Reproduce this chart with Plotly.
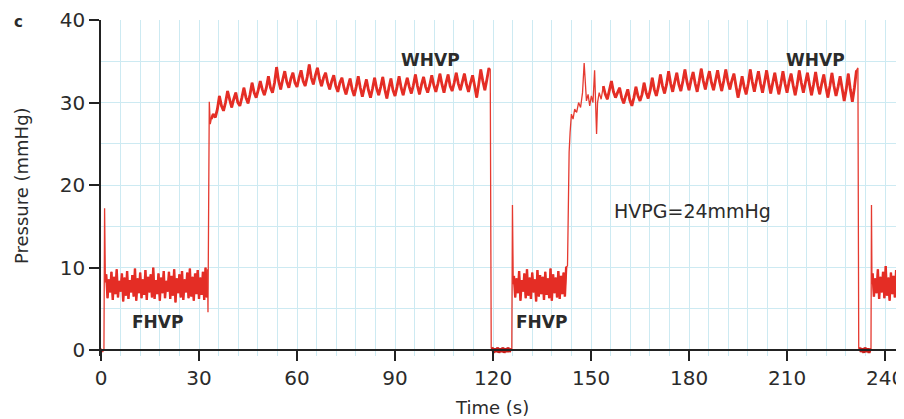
import numpy as np
import plotly.graph_objects as go

# ---------------- data ----------------
# opening of the record: baseline, flush spike, settling
start_t = [0.0, 0.5, 0.9, 1.1, 1.35]
start_p = [0.2, -0.2, 0.1, 17.2, 8.2]

# first free hepatic venous pressure (FHVP) segment, sampled every 0.4 s
fhvp1_t0, fhvp1_dt = 1.6, 0.4
fhvp1_p = [9.2, 6.3, 8.6, 7.0, 9.5, 6.1, 8.9, 6.8, 9.8, 6.4, 8.4, 7.1, 9.3, 5.9, 8.8, 6.6, 9.6, 6.2, 8.5, 7.0,
           9.1, 6.5, 9.9, 6.0, 8.7, 6.9, 9.4, 6.3, 8.6, 6.7, 9.7, 6.1, 8.9, 7.0, 9.2, 6.4, 10.0, 6.2, 8.5, 6.8,
           9.3, 6.0, 8.8, 6.9, 9.6, 6.3, 8.4, 7.1, 9.5, 6.2, 9.0, 6.6, 9.8, 5.8, 8.7, 6.9, 9.2, 6.4, 9.6, 6.1,
           8.6, 7.0, 9.4, 6.3, 9.9, 6.5, 8.9, 6.0, 9.3, 6.8, 9.7, 6.2, 8.8, 6.7, 9.5, 6.1, 10.0, 6.4]

# balloon inflation
rise1_t = [32.6, 32.75, 32.95, 33.15, 33.45]
rise1_p = [9.8, 4.6, 14.0, 30.1, 27.4]

# first wedged hepatic venous pressure (WHVP) segment, every 0.625 s
whvp1_t0, whvp1_dt = 33.75, 0.625
whvp1_p = [28.0, 28.6, 28.2, 29.2, 30.8, 29.6, 29.0, 30.0, 31.4, 30.2, 29.4, 30.4,
           31.2, 30.0, 29.6, 30.6, 31.8, 30.6, 29.9, 31.0, 32.4, 31.2, 30.6, 31.5,
           32.6, 31.6, 30.9, 31.8, 33.2, 31.8, 31.2, 32.4, 34.3, 32.6, 31.6, 32.8,
           33.8, 32.5, 31.8, 32.9, 33.6, 32.4, 31.9, 33.0, 33.9, 32.6, 32.0, 33.1,
           34.6, 33.0, 32.2, 33.3, 34.2, 32.9, 32.0, 33.0, 33.6, 32.4, 31.6, 32.6,
           33.3, 32.0, 31.3, 32.4, 33.0, 31.8, 31.0, 32.0, 32.9, 31.6, 30.8, 31.9,
           33.2, 31.8, 30.7, 31.8, 32.8, 31.5, 30.6, 31.7, 33.0, 31.7, 30.9, 31.9,
           33.1, 31.6, 30.5, 31.8, 32.9, 31.5, 30.8, 31.9, 33.2, 31.8, 30.9, 32.0,
           33.0, 31.9, 31.1, 32.1, 33.4, 32.0, 31.0, 32.2, 33.1, 31.9, 31.2, 32.1,
           33.3, 32.1, 31.3, 32.3, 33.5, 32.2, 31.2, 32.4, 33.4, 32.0, 31.4, 32.4,
           33.6, 32.3, 31.5, 32.5, 33.5, 32.2, 31.3, 32.4, 33.3, 32.0, 30.6, 32.2,
           34.0, 32.6, 31.5, 32.8, 34.2]

# deflation / zero reference, then flush spike
drop1_t = [119.15, 119.45]
drop1_p = [34.0, 0.2]
zero1_t0, zero1_dt = 119.8, 0.4
zero1_p = [0.3, -0.3, 0.2, -0.2, 0.3, -0.3, 0.2, -0.2, 0.3, -0.3, 0.2, -0.2, 0.3, -0.2, 0.2]
spike2_t = [125.75, 125.95, 126.2]
spike2_p = [0.2, 17.6, 8.0]

# second FHVP segment
fhvp2_t0, fhvp2_dt = 126.4, 0.4
fhvp2_p = [9.0, 6.4, 8.7, 6.9, 9.6, 6.0, 8.5, 7.1, 9.3, 6.3, 9.8, 6.6, 8.8, 6.2, 9.4, 7.0, 8.6, 5.9, 9.7, 6.5,
           9.1, 6.8, 8.9, 6.1, 9.5, 6.7, 8.7, 6.3, 9.9, 6.0, 9.2, 6.9, 8.8, 6.4, 9.6, 6.2, 9.0, 6.8, 9.4, 6.5,
           10.1]

# second inflation, with the early artefacts
rise2_t = [142.8, 143.0, 143.3, 143.6, 144.0, 144.5, 145.0, 145.6, 146.2, 146.8, 147.4, 147.9,
           148.2, 148.6, 149.1, 149.6, 150.1, 150.6, 151.1, 151.4, 151.7, 152.0, 152.5, 153.1]
rise2_p = [10.2, 18.5, 24.0, 26.4, 28.6, 28.0, 29.2, 28.8, 30.0, 29.4, 31.2, 34.8,
           32.0, 30.2, 31.0, 29.6, 30.8, 30.0, 33.9, 29.0, 26.2, 30.0, 31.2, 30.4]

# second WHVP segment
whvp2_t0, whvp2_dt = 153.75, 0.625
whvp2_p = [32.0, 31.0, 30.4, 31.4, 32.6, 31.3, 30.6, 31.2, 31.8, 30.6, 29.9, 30.8,
           31.6, 30.3, 29.6, 30.6, 31.9, 30.8, 30.2, 31.0, 32.4, 31.2, 30.5, 31.5,
           33.0, 31.6, 30.8, 31.9, 33.4, 32.0, 31.1, 32.2, 33.8, 32.3, 31.3, 32.5,
           33.6, 32.2, 31.4, 32.6, 34.0, 32.5, 31.5, 32.7, 33.7, 32.3, 31.3, 32.6,
           34.1, 32.6, 31.6, 32.8, 33.8, 32.4, 31.5, 32.7, 33.9, 32.5, 31.4, 32.6,
           34.0, 32.6, 31.6, 32.7, 33.5, 32.0, 30.6, 31.8, 33.2, 31.9, 31.0, 32.3,
           34.0, 32.5, 31.3, 32.6, 33.8, 32.3, 31.2, 32.5, 33.9, 32.4, 31.1, 32.4,
           33.6, 32.2, 31.0, 32.3, 33.8, 32.3, 31.2, 32.5, 33.5, 32.1, 30.9, 32.2,
           33.9, 32.4, 31.2, 32.4, 33.6, 32.2, 30.9, 32.2, 33.7, 32.1, 31.0, 32.3,
           33.4, 31.9, 30.6, 32.0, 33.6, 32.0, 30.8, 31.9, 33.2, 31.7, 30.2, 31.6,
           33.5, 31.6, 30.1, 31.8, 33.9]

drop2_t = [231.7, 231.95]
drop2_p = [34.2, 0.2]
zero2_t0, zero2_dt = 232.3, 0.4
zero2_p = [0.3, -0.2, 0.2, -0.3, 0.3, -0.2, 0.2, -0.3, 0.2]
spike3_t = [235.7, 235.85, 236.0]
spike3_p = [0.2, 17.6, 8.0]

# third FHVP segment
fhvp3_t0, fhvp3_dt = 236.2, 0.4
fhvp3_p = [9.3, 6.5, 8.7, 6.9, 9.8, 6.2, 8.9, 7.0, 9.5, 6.3, 10.2, 6.6,
           8.8, 6.0, 9.4, 6.8, 9.0, 6.4, 9.7, 6.1, 8.6, 6.9, 9.2, 6.5]

x_ticks = [0, 30, 60, 90, 120, 150, 180, 210, 240]
y_ticks = [0, 10, 20, 30, 40]

labels = ["FHVP", "FHVP", "WHVP", "WHVP"]
label_t = [17.4, 134.7, 101.0, 218.6]
label_p = [3.4, 3.4, 35.2, 35.2]
hvpg_text = "HVPG=24mmHg"

# ---------------- assemble the trace ----------------
def sampled(t0, dt, vals):
    return list(t0 + dt * np.arange(len(vals)))

pieces = [
    ("thin", start_t, start_p),
    ("band", sampled(fhvp1_t0, fhvp1_dt, fhvp1_p), fhvp1_p),
    ("thin", rise1_t, rise1_p),
    ("wedge", sampled(whvp1_t0, whvp1_dt, whvp1_p), whvp1_p),
    ("thin", drop1_t, drop1_p),
    ("zero", sampled(zero1_t0, zero1_dt, zero1_p), zero1_p),
    ("thin", spike2_t, spike2_p),
    ("band", sampled(fhvp2_t0, fhvp2_dt, fhvp2_p), fhvp2_p),
    ("thin", rise2_t, rise2_p),
    ("wedge", sampled(whvp2_t0, whvp2_dt, whvp2_p), whvp2_p),
    ("thin", drop2_t, drop2_p),
    ("zero", sampled(zero2_t0, zero2_dt, zero2_p), zero2_p),
    ("thin", spike3_t, spike3_p),
    ("band", sampled(fhvp3_t0, fhvp3_dt, fhvp3_p), fhvp3_p),
]

t_all, p_all = [], []
for _, tt, pp in pieces:
    t_all += list(tt)
    p_all += list(pp)

FONT = "DejaVu Sans"
TXT = "#2b2b2b"
GRID = "#cdeaf2"
RED = "#e42d25"
Y_LO = -0.7
widths = {"band": 2.4, "wedge": 2.8, "zero": 3.0}
colors = {"band": RED, "wedge": RED, "zero": "#c81e1a"}

fig = go.Figure()
# full continuous record, thin
fig.add_trace(go.Scatter(x=t_all, y=p_all, mode="lines",
                         line=dict(color="#e53a30", width=1.3),
                         hoverinfo="skip", showlegend=False))
# heavier overlay where the trace is dense
for kind, tt, pp in pieces:
    if kind in widths:
        fig.add_trace(go.Scatter(x=tt, y=pp, mode="lines",
                                 line=dict(color=colors[kind], width=widths[kind]),
                                 hoverinfo="skip", showlegend=False))

for txt, tx, py in zip(labels, label_t, label_p):
    fig.add_annotation(x=tx, y=py, text=f"<b>{txt}</b>", showarrow=False,
                       font=dict(family=FONT, size=17, color=TXT))
fig.add_annotation(x=181, y=16.9, text=hvpg_text, showarrow=False,
                   font=dict(family=FONT, size=19, color=TXT))

fig.add_annotation(xref="paper", yref="paper", x=-0.0984, y=0.506, text="Pressure (mmHg)",
                   textangle=-90, showarrow=False, xanchor="center", yanchor="middle",
                   font=dict(family=FONT, size=18, color=TXT))
fig.add_annotation(xref="paper", yref="paper", x=0.487, y=-0.154, text="Time (s)",
                   showarrow=False, xanchor="center", yanchor="middle",
                   font=dict(family=FONT, size=18, color=TXT))
fig.add_annotation(xref="paper", yref="paper", x=-0.103, y=0.994, text="<b>c</b>",
                   showarrow=False, xanchor="center", yanchor="middle",
                   font=dict(family=FONT, size=15, color=TXT))

fig.update_layout(
    width=896, height=411,
    margin=dict(l=93, r=0, t=10, b=63),
    plot_bgcolor="white", paper_bgcolor="white",
    xaxis=dict(range=[0, 245.5], tickvals=x_ticks, ticks="outside", ticklen=10,
               tickwidth=1.5, tickcolor="#222", showline=True, linecolor="#222", linewidth=1.5,
               anchor="free", position=(0 - Y_LO) / (40 - Y_LO),
               showgrid=True, gridcolor=GRID, gridwidth=1, zeroline=False,
               ticklabeloverflow="allow",
               minor=dict(dtick=6, tick0=0, showgrid=True, gridcolor=GRID, ticks=""),
               tickfont=dict(family=FONT, size=20, color=TXT)),
    yaxis=dict(range=[Y_LO, 40], tickvals=y_ticks, ticks="outside", ticklen=10,
               tickwidth=1.5, tickcolor="#222", showline=True, linecolor="#222", linewidth=1.5,
               showgrid=True, gridcolor=GRID, gridwidth=1, zeroline=False,
               ticklabeloverflow="allow",
               minor=dict(dtick=5, tick0=0, showgrid=True, gridcolor=GRID, ticks=""),
               tickfont=dict(family=FONT, size=20, color=TXT)),
)

fig.write_html("out.html")
